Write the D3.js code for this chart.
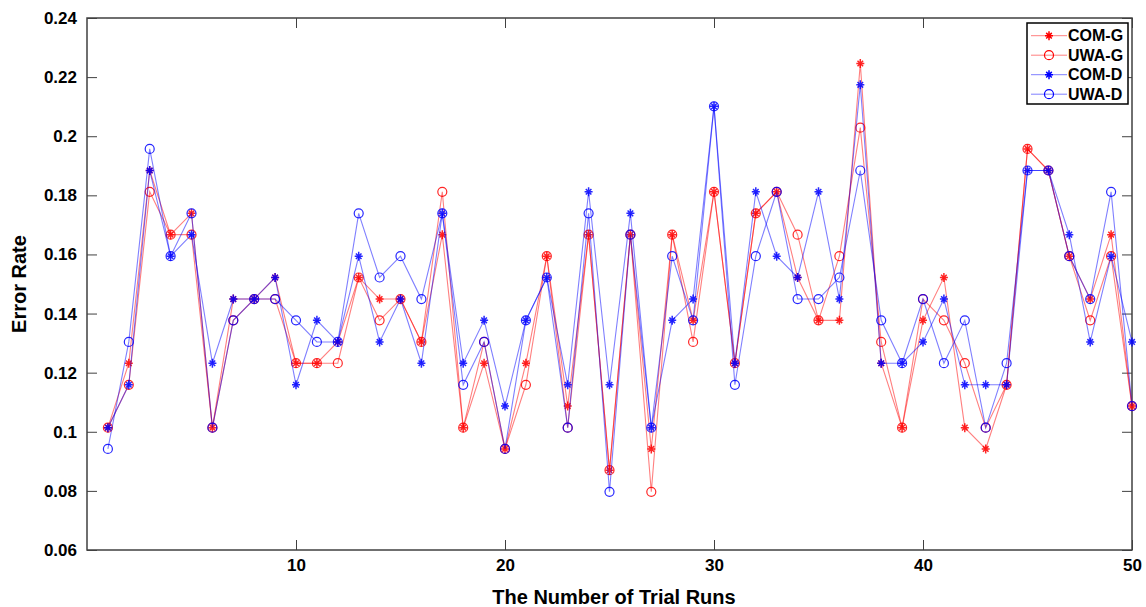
<!DOCTYPE html>
<html>
<head>
<meta charset="utf-8">
<script src="https://cdn.jsdelivr.net/npm/d3@7"></script>
<style>
  body { margin: 0; background: #fff; }
  text { font-family: "Liberation Sans", Arial, sans-serif; font-weight: bold; }
</style>
</head>
<body>
<div id="chart"></div>
<script>
// trial runs 1..50
const runs = d3.range(1, 51);

const comG = [0.1014, 0.1232, 0.1884, 0.1667, 0.1739, 0.1014, 0.1449, 0.1449, 0.1522, 0.1232,
              0.1232, 0.1304, 0.1522, 0.1449, 0.1449, 0.1304, 0.1667, 0.1014, 0.1232, 0.0942,
              0.1232, 0.1594, 0.1087, 0.1667, 0.0870, 0.1667, 0.0942, 0.1667, 0.1377, 0.1812,
              0.1232, 0.1739, 0.1812, 0.1522, 0.1377, 0.1377, 0.2246, 0.1232, 0.1014, 0.1377,
              0.1522, 0.1014, 0.0942, 0.1159, 0.1957, 0.1884, 0.1594, 0.1449, 0.1667, 0.1087];

const uwaG = [0.1014, 0.1159, 0.1812, 0.1667, 0.1667, 0.1014, 0.1377, 0.1449, 0.1449, 0.1232,
              0.1232, 0.1232, 0.1522, 0.1377, 0.1449, 0.1304, 0.1812, 0.1014, 0.1304, 0.0942,
              0.1159, 0.1594, 0.1014, 0.1667, 0.0870, 0.1667, 0.0797, 0.1667, 0.1304, 0.1812,
              0.1232, 0.1739, 0.1812, 0.1667, 0.1377, 0.1594, 0.2029, 0.1304, 0.1014, 0.1449,
              0.1377, 0.1232, 0.1014, 0.1159, 0.1957, 0.1884, 0.1594, 0.1377, 0.1594, 0.1087];

const comD = [0.1014, 0.1159, 0.1884, 0.1594, 0.1667, 0.1232, 0.1449, 0.1449, 0.1522, 0.1159,
              0.1377, 0.1304, 0.1594, 0.1304, 0.1449, 0.1232, 0.1739, 0.1232, 0.1377, 0.1087,
              0.1377, 0.1522, 0.1159, 0.1812, 0.1159, 0.1739, 0.1014, 0.1377, 0.1449, 0.2101,
              0.1232, 0.1812, 0.1594, 0.1522, 0.1812, 0.1449, 0.2174, 0.1232, 0.1232, 0.1304,
              0.1449, 0.1159, 0.1159, 0.1159, 0.1884, 0.1884, 0.1667, 0.1304, 0.1594, 0.1304];

const uwaD = [0.0942, 0.1304, 0.1957, 0.1594, 0.1739, 0.1014, 0.1377, 0.1449, 0.1449, 0.1377,
              0.1304, 0.1304, 0.1739, 0.1522, 0.1594, 0.1449, 0.1739, 0.1159, 0.1304, 0.0942,
              0.1377, 0.1522, 0.1014, 0.1739, 0.0797, 0.1667, 0.1014, 0.1594, 0.1377, 0.2101,
              0.1159, 0.1594, 0.1812, 0.1449, 0.1449, 0.1522, 0.1884, 0.1377, 0.1232, 0.1449,
              0.1232, 0.1377, 0.1014, 0.1232, 0.1884, 0.1884, 0.1594, 0.1449, 0.1812, 0.1087];

const xTicks = [10, 20, 30, 40, 50];
const yTicks = [0.06, 0.08, 0.1, 0.12, 0.14, 0.16, 0.18, 0.2, 0.22, 0.24];

const series = [
    {name: "COM-G", values: comG, color: "#ff0000", marker: "star"},
    {name: "UWA-G", values: uwaG, color: "#ff0000", marker: "circle"},
    {name: "COM-D", values: comD, color: "#0000ff", marker: "star"},
    {name: "UWA-D", values: uwaD, color: "#0000ff", marker: "circle"}
];

const W = 1146, H = 607;
const margin = {top: 18, right: 14, bottom: 57, left: 87};
const width = W - margin.left - margin.right;
const height = H - margin.top - margin.bottom;

const svg = d3.select("#chart")
    .append("svg")
        .attr("width", W)
        .attr("height", H);

const g = svg.append("g")
    .attr("transform", "translate(" + margin.left + "," + margin.top + ")");

const x = d3.scaleLinear().domain([0, 50]).range([0, width]);
const y = d3.scaleLinear().domain([0.06, 0.24]).range([height, 0]);

const axisColor = "#404040";
const fmt = d => d3.format("")(+d.toFixed(2));

// axes, ticks pointing inwards on all four sides
g.append("g")
    .attr("transform", "translate(0," + height + ")")
    .call(d3.axisBottom(x).tickValues(xTicks).tickSizeInner(-10).tickSizeOuter(0).tickPadding(9))
    .call(a => a.selectAll("text").attr("font-size", 17).attr("fill", "#000"));
g.append("g")
    .call(d3.axisTop(x).tickValues(xTicks).tickSizeInner(-10).tickSizeOuter(0).tickFormat(""));
g.append("g")
    .call(d3.axisLeft(y).tickValues(yTicks).tickFormat(fmt).tickSizeInner(-10).tickSizeOuter(0).tickPadding(10))
    .call(a => a.selectAll("text").attr("font-size", 17).attr("fill", "#000"));
g.append("g")
    .attr("transform", "translate(" + width + ",0)")
    .call(d3.axisRight(y).tickValues(yTicks).tickSizeInner(-10).tickSizeOuter(0).tickFormat(""));

g.selectAll(".domain").remove();
g.selectAll(".tick line").attr("stroke", axisColor).attr("stroke-width", 1);

g.append("rect")
    .attr("width", width)
    .attr("height", height)
    .attr("fill", "none")
    .attr("stroke", axisColor)
    .attr("stroke-width", 1.5);

const starPath = "M-4,0H4M0,-4.5V4.5M-2.8,-2.8L2.8,2.8M-2.8,2.8L2.8,-2.8";

const line = d3.line()
    .x((d, i) => x(runs[i]))
    .y(d => y(d));

function drawMarker(sel, s) {
    if (s.marker === "star") {
        sel.append("path")
            .attr("d", starPath)
            .attr("stroke", s.color)
            .attr("stroke-width", 1.5)
            .attr("fill", "none");
    } else {
        sel.append("circle")
            .attr("r", 4.5)
            .attr("stroke", s.color)
            .attr("stroke-width", 1.2)
            .attr("fill", "none");
    }
}

// lines and markers
series.forEach(s => {
    const sg = g.append("g");
    sg.append("path")
        .datum(s.values)
        .attr("d", line)
        .attr("fill", "none")
        .attr("stroke", s.color)
        .attr("stroke-opacity", 0.5)
        .attr("stroke-width", 1.1);
    sg.selectAll("g.m")
        .data(s.values)
        .enter()
        .append("g")
            .attr("class", "m")
            .attr("opacity", 0.85)
            .attr("transform", (d, i) => "translate(" + x(runs[i]) + "," + y(d) + ")")
            .each(function() { drawMarker(d3.select(this), s); });
});

// legend
const legend = svg.append("g").attr("transform", "translate(1027,23)");
legend.append("rect")
    .attr("width", 101)
    .attr("height", 81)
    .attr("fill", "#fff")
    .attr("stroke", "#000")
    .attr("stroke-width", 1.5);
series.forEach((s, i) => {
    const row = legend.append("g").attr("transform", "translate(0," + (12.7 + i * 19.5) + ")");
    row.append("line")
        .attr("x1", 4).attr("x2", 40)
        .attr("stroke", s.color)
        .attr("stroke-opacity", 0.5)
        .attr("stroke-width", 1);
    const m = row.append("g").attr("transform", "translate(22,0)");
    drawMarker(m, s);
    row.append("text")
        .attr("x", 41)
        .attr("dy", "0.36em")
        .attr("font-size", 16)
        .text(s.name);
});

// axis titles
svg.append("text")
    .attr("x", 614)
    .attr("y", 604)
    .attr("text-anchor", "middle")
    .attr("font-size", 20)
    .text("The Number of Trial Runs");

svg.append("text")
    .attr("transform", "translate(26," + (margin.top + height / 2) + ") rotate(-90)")
    .attr("text-anchor", "middle")
    .attr("font-size", 20)
    .text("Error Rate");
</script>
</body>
</html>
